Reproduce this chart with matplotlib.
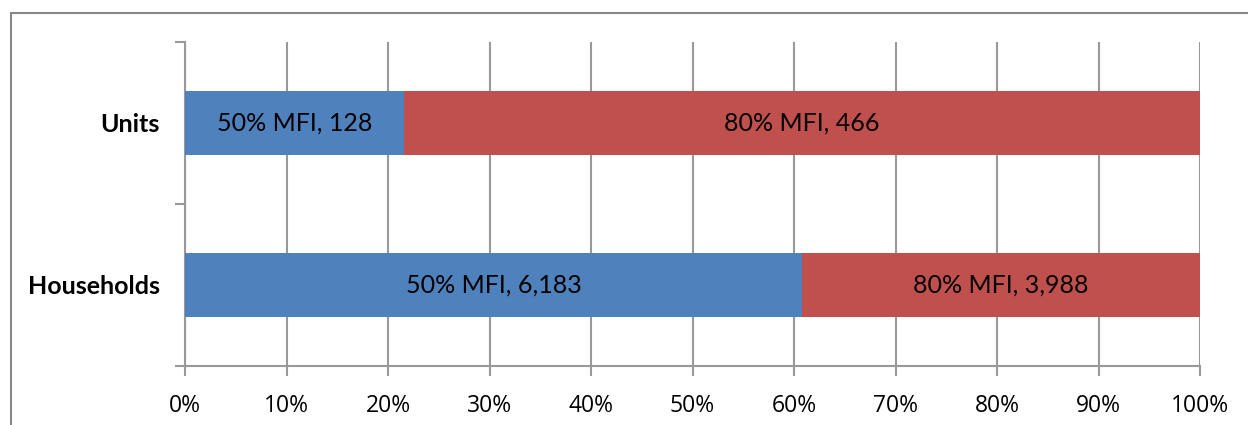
import matplotlib.pyplot as plt
from matplotlib.patches import Rectangle

# ── Data ────────────────────────────────────────────────────────────────────
categories = ["Households", "Units"]
mfi50 = [6183, 128]
mfi80 = [3988, 466]
series_names = ["50% MFI", "80% MFI"]
xticks = [0, 10, 20, 30, 40, 50, 60, 70, 80, 90, 100]

colors = ["#4F81BD", "#C0504D"]
grid_col = "#999999"

totals = [a + b for a, b in zip(mfi50, mfi80)]
pct50 = [a / t * 100 for a, t in zip(mfi50, totals)]
pct80 = [b / t * 100 for b, t in zip(mfi80, totals)]

fig = plt.figure(figsize=(12.48, 4.25), dpi=100)
# outer chart border (right edge falls outside the image)
fig.patches.append(Rectangle((11 / 1248, -0.1), 1.2, 1.1 - 13 / 425,
                             transform=fig.transFigure, fill=False,
                             edgecolor="#888888", linewidth=1.5))
ax = fig.add_axes([185 / 1248, 1 - 366 / 425, 1015 / 1248, 324 / 425])

ypos = list(range(len(categories)))
ax.barh(ypos, pct50, height=0.4, color=colors[0], zorder=3)
ax.barh(ypos, pct80, left=pct50, height=0.4, color=colors[1], zorder=3)

for i in ypos:
    ax.text(pct50[i] / 2, i, f"{series_names[0]}, {mfi50[i]:,}",
            ha="center", va="center", fontsize=18, family="Lato", zorder=4)
    ax.text(pct50[i] + pct80[i] / 2, i, f"{series_names[1]}, {mfi80[i]:,}",
            ha="center", va="center", fontsize=18, family="Lato", zorder=4)

ax.set_xlim(0, 100)
ax.set_ylim(-0.5, 1.5)
ax.set_xticks(xticks)
ax.set_xticklabels([f"{v}%" for v in xticks], fontsize=16.5,
                   family="Open Sans")
ax.xaxis.grid(True, color=grid_col, linewidth=1.5, zorder=0)

ax.set_yticks([-0.5, 0.5, 1.5])
ax.set_yticklabels([])
ax.set_yticks(ypos, minor=True)
ax.set_yticklabels(categories, minor=True, fontsize=18, family="Lato",
                   fontweight="bold")
ax.tick_params(axis="y", which="minor", length=0, pad=18)
ax.tick_params(axis="y", which="major", length=7, width=1.5, color=grid_col)
ax.tick_params(axis="x", length=7, width=1.5, color=grid_col, pad=13)

for s in ["top", "right"]:
    ax.spines[s].set_visible(False)
for s in ["left", "bottom"]:
    ax.spines[s].set_color(grid_col)
    ax.spines[s].set_linewidth(1.5)

fig.savefig("out.png", dpi=100)
